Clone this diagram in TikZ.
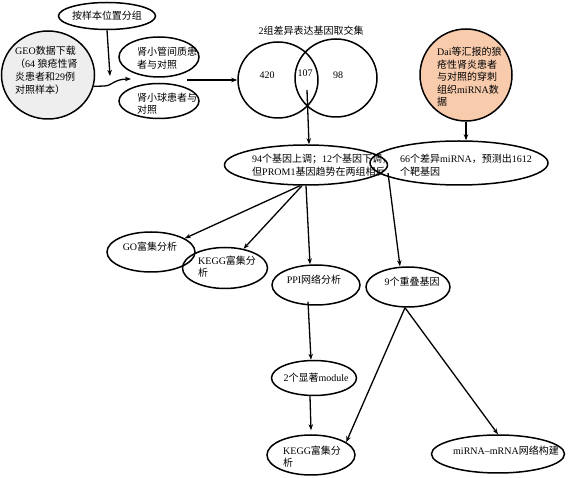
\documentclass[tikz,border=0pt]{standalone}
\usepackage{fontspec}
\setmainfont{Liberation Serif}
\newfontfamily\cjkf{Noto Sans CJK SC}
\newcommand\zh[1]{{\cjkf #1}}
\usetikzlibrary{shapes.geometric,arrows.meta}
\definecolor{peach}{HTML}{F8CBAD}
\definecolor{lgray}{HTML}{EEEEEE}
\begin{document}
\begin{tikzpicture}[x=1pt,y=-1pt,
  ell/.style={draw,ellipse,line width=1.5pt,inner sep=0pt},
  txt/.style={inner sep=0pt,align=left,font=\fontsize{10}{13}\selectfont},
  arr/.style={-{Stealth[length=6pt,width=4.5pt]},line width=1.3pt}]
\useasboundingbox (0,0) rectangle (582,478);

% ellipses
\node[ell,minimum width=97pt,minimum height=27pt] (grp) at (107,16) {};
\node[ell,fill=lgray,minimum width=93pt,minimum height=88pt] (geo) at (48,75) {};
\node[ell,minimum width=80pt,minimum height=40pt] (tub) at (159,57) {};
\node[ell,minimum width=80pt,minimum height=35pt] (glom) at (159,101) {};
\node[ell,minimum width=80pt,minimum height=76pt] (vL) at (278,80) {};
\node[ell,minimum width=82pt,minimum height=78pt] (vR) at (336,78) {};
\node[ell,fill=peach,minimum width=92pt,minimum height=92pt] (dai) at (466,75) {};
\node[ell,minimum width=163pt,minimum height=40pt] (e94) at (306,165) {};
\node[ell,minimum width=178pt,minimum height=44pt] (e66) at (459,163) {};
\node[ell,minimum width=88pt,minimum height=40pt] (go) at (151,252) {};
\node[ell,minimum width=85pt,minimum height=41pt] (kegg1) at (225,268) {};
\node[ell,minimum width=88pt,minimum height=40pt] (ppi) at (316,285) {};
\node[ell,minimum width=84pt,minimum height=40pt] (ovl) at (408,287) {};
\node[ell,minimum width=85pt,minimum height=35pt] (mod) at (314,378) {};
\node[ell,minimum width=88pt,minimum height=40pt] (kegg2) at (311,455) {};
\node[ell,minimum width=133pt,minimum height=38pt] (mm) at (498,454) {};

% texts
\node[txt] (grp-t) at (107,16) {\zh{按样本位置分组}};
\node[txt,anchor=north west] (geo-t) at (15,46) {GEO\zh{数据下载}\\\zh{（}64 \zh{狼疮性肾}\\\zh{炎患者和}29\zh{例}\\\zh{对照样本）}};
\node[txt,anchor=north west] (tub-t) at (137,47) {\zh{肾小管间质患}\\\zh{者与对照}};
\node[txt,anchor=north west,font=\fontsize{10}{12}\selectfont] (glom-t) at (137,93) {\zh{肾小球患者与}\\\zh{对照}};
\node[txt] (venn-t) at (311,31) {2\zh{组差异表达基因取交集}};
\node[txt] (n420) at (267,75) {420};
\node[txt] (n107) at (305,73) {107};
\node[txt] (n98) at (338,75) {98};
\node[txt,anchor=north west,font=\fontsize{10}{12.5}\selectfont] (dai-t) at (437,47) {Dai\zh{等汇报的狼}\\\zh{疮性肾炎患者}\\\zh{与对照的穿刺}\\\zh{组织}miRNA\zh{数}\\\zh{据}};
\node[txt,anchor=north west] (e94-t) at (252,154) {94\zh{个基因上调；}12\zh{个基因下调，}\\\zh{但}PROM1\zh{基因趋势在两组相反}};
\node[txt,anchor=north west] (e66-t) at (400,154) {66\zh{个差异}miRNA\zh{，预测出}1612\\\zh{个靶基因}};
\node[txt] (go-t) at (150,247) {GO\zh{富集分析}};
\node[txt,anchor=north west,font=\fontsize{10}{12}\selectfont] (kegg1-t) at (198,256) {KEGG\zh{富集分}\\\zh{析}};
\node[txt] (ppi-t) at (314,280) {PPI\zh{网络分析}};
\node[txt] (ovl-t) at (412,282) {9\zh{个重叠基因}};
\node[txt] (mod-t) at (316,378) {2\zh{个显著}module};
\node[txt,anchor=north west,font=\fontsize{10}{12}\selectfont] (kegg2-t) at (283,446) {KEGG\zh{富集分}\\\zh{析}};
\node[txt,anchor=north west] (mm-t) at (453,446) {miRNA–mRNA\zh{网络构建}};

% free ends
\coordinate (jn) at (131,79);
\coordinate (jv) at (187,80);
\coordinate (vc) at (307,90);
\coordinate (c66) at (388,173);

% connectors
\draw[arr] (grp.south) -- (110,76);
\draw[arr] (geo.-14) -- (104,86) .. controls (112,86) and (114,79) .. (jn);
\draw[arr] (jv) -- (vL.west);
\draw[arr] (vc) -- ([xshift=3pt]e94.north);
\draw[arr] (dai.south) -- (dai.south |- e66.north);
\draw[arr] ([xshift=-6pt]e94.south) -- (go.22);
\draw[arr] ([xshift=-4pt]e94.south) -- (kegg1.46);
\draw[arr] (e94.south) -- ([xshift=-6pt]ppi.north);
\draw[arr] (c66) -- ([xshift=-8pt]ovl.north);
\draw[arr] ([xshift=-8pt,yshift=4pt]ppi.south) -- ([xshift=-3pt]mod.north);
\draw[arr] ([xshift=-4pt]mod.south) -- ([yshift=4pt]kegg2.north);
\draw[arr] ([xshift=-3pt]ovl.south) -- (kegg2.20);
\draw[arr] ([xshift=-3pt]ovl.south) -- (mm.north);
\end{tikzpicture}
\end{document}
